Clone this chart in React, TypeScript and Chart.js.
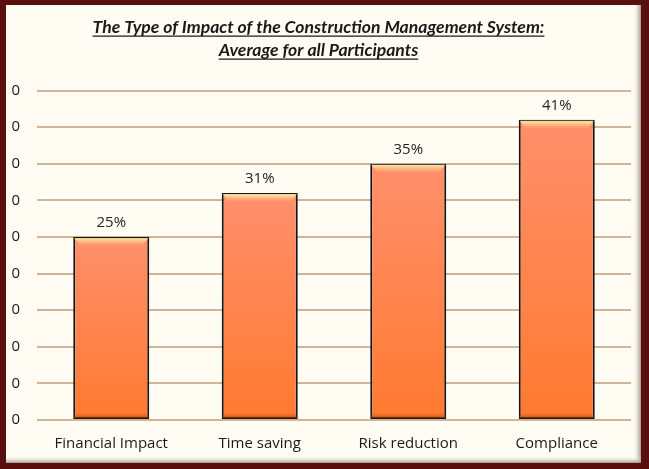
import React, { useEffect, useRef } from "react";
import { Chart, registerables } from "chart.js";

Chart.register(...registerables);

const categories = ["Financial Impact", "Time saving", "Risk reduction", "Compliance"];
const values = [25, 31, 35, 41];
const valueLabels = ["25%", "31%", "35%", "41%"];
const yTickLabel = "0";
const titleLines = [
  "The Type of Impact of the Construction Management System:",
  "Average for all Participants",
];
const yMin = 0;
const yMax = 45;
const yStep = 5;

const W = 649;
const H = 469;
const TITLE_SIZE = 17.6;
const TITLE_LH = 23 / 17.6;
const TITLE_FAMILY = "Lato";

const framePlugin = {
  id: "frame",
  beforeDraw(chart: any) {
    const c = chart.ctx;
    c.save();
    c.fillStyle = "#5a0f0f";
    c.fillRect(0, 0, W, H);
    c.fillStyle = "#fffdf3";
    c.fillRect(6, 5, 635, 458);
    let g = c.createLinearGradient(633, 0, 641, 0);
    g.addColorStop(0, "rgba(255,253,243,0)");
    g.addColorStop(1, "rgba(150,140,125,0.9)");
    c.fillStyle = g;
    c.fillRect(633, 5, 8, 458);
    g = c.createLinearGradient(0, 456, 0, 463);
    g.addColorStop(0, "rgba(255,253,243,0)");
    g.addColorStop(1, "rgba(150,140,125,0.9)");
    c.fillStyle = g;
    c.fillRect(6, 456, 635, 7);
    c.restore();
  },
};

const underlinePlugin = {
  id: "underline",
  afterDraw(chart: any) {
    const tb = chart.titleBlock;
    if (!tb) return;
    const c = chart.ctx;
    const lineHeight = TITLE_SIZE * TITLE_LH;
    const padTop = tb.options.padding.top ?? 0;
    c.save();
    c.font = `italic bold ${TITLE_SIZE}px ${TITLE_FAMILY}`;
    c.strokeStyle = "#1a1a1a";
    c.lineWidth = 1.3;
    titleLines.forEach((t, i) => {
      const cy = tb.top + padTop + lineHeight / 2 + i * lineHeight;
      const w = c.measureText(t).width;
      const x0 = tb.left + tb.width / 2 - w / 2;
      const y = cy + TITLE_SIZE * 0.52;
      c.beginPath();
      c.moveTo(x0, y);
      c.lineTo(x0 + w, y);
      c.stroke();
    });
    c.restore();
  },
};

const barDecorPlugin = {
  id: "barDecor",
  afterDatasetsDraw(chart: any) {
    const c = chart.ctx;
    const meta = chart.getDatasetMeta(0);
    c.save();
    meta.data.forEach((bar: any, i: number) => {
      const w = bar.width;
      const left = bar.x - w / 2;
      const g = c.createLinearGradient(0, bar.y + 1, 0, bar.y + 9);
      g.addColorStop(0, "rgba(255,245,170,0.95)");
      g.addColorStop(1, "rgba(255,200,140,0)");
      c.fillStyle = g;
      c.beginPath();
      c.moveTo(left + 1, bar.y + 1);
      c.lineTo(left + w - 1, bar.y + 1);
      c.lineTo(left + w - 7, bar.y + 9);
      c.lineTo(left + 7, bar.y + 9);
      c.closePath();
      c.fill();
      const bg = c.createLinearGradient(0, bar.base - 6, 0, bar.base - 1);
      bg.addColorStop(0, "rgba(200,80,10,0)");
      bg.addColorStop(1, "rgba(170,60,0,0.7)");
      c.fillStyle = bg;
      c.fillRect(left + 1, bar.base - 6, w - 2, 5);
      c.fillStyle = "#222222";
      c.font = "15px 'Open Sans'";
      c.textAlign = "center";
      c.textBaseline = "middle";
      c.fillText(valueLabels[i], bar.x, bar.y - 14);
    });
    c.restore();
  },
};

export default function App() {
  const ref = useRef<HTMLCanvasElement | null>(null);

  useEffect(() => {
    if (!ref.current) return;
    const chart = new Chart(ref.current, {
      type: "bar",
      data: {
        labels: categories,
        datasets: [
          {
            data: values,
            backgroundColor: (ctx: any) => {
              const ch = ctx.chart;
              const ys = ch.scales?.y;
              if (!ys || ctx.dataIndex === undefined) return "#ff8a55";
              const top = ys.getPixelForValue(values[ctx.dataIndex]);
              const bottom = ys.getPixelForValue(0);
              if (!isFinite(top) || !isFinite(bottom)) return "#ff8a55";
              const g = ch.ctx.createLinearGradient(0, top, 0, bottom);
              g.addColorStop(0, "#ff8f6c");
              g.addColorStop(1, "#ff7a30");
              return g;
            },
            borderColor: "#151515",
            borderWidth: 2,
            borderSkipped: false,
            barPercentage: 0.64,
            categoryPercentage: 0.8,
          },
        ],
      },
      options: {
        responsive: false,
        animation: false,
        devicePixelRatio: 1,
        layout: { padding: { left: 6, right: 18, top: 5, bottom: 1 } },
        plugins: {
          legend: { display: false },
          tooltip: { enabled: false },
          title: {
            display: true,
            text: titleLines,
            color: "#1a1a1a",
            font: { family: TITLE_FAMILY, size: TITLE_SIZE, style: "italic", weight: "bold", lineHeight: TITLE_LH },
            padding: { top: 10.5, bottom: 29 },
          },
        },
        scales: {
          x: {
            grid: { display: false, drawTicks: false },
            border: { display: false },
            ticks: { color: "#1a1a1a", font: { family: "Open Sans", size: 15 }, padding: 15 },
          },
          y: {
            min: yMin,
            max: yMax,
            afterFit: (s: any) => {
              s.width = 31;
            },
            grid: { color: "#d2b496", lineWidth: 2, drawTicks: false },
            border: { display: false },
            ticks: {
              stepSize: yStep,
              color: "#1a1a1a",
              font: { family: "Open Sans", size: 15 },
              padding: 17,
              callback: () => yTickLabel,
            },
          },
        },
      },
      plugins: [framePlugin, underlinePlugin, barDecorPlugin],
    });
    return () => chart.destroy();
  }, []);

  return (
    <div style={{ position: "absolute", left: 0, top: 0, width: W, height: H }}>
      <canvas ref={ref} width={W} height={H} style={{ display: "block" }} />
    </div>
  );
}
